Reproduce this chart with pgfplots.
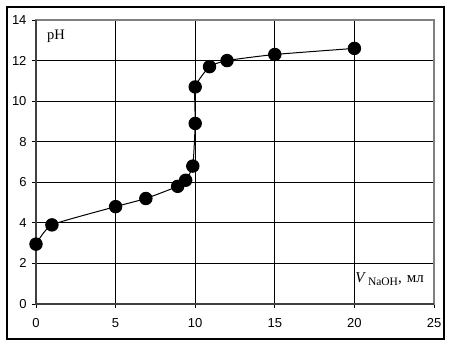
\documentclass[border=0pt]{standalone}
\usepackage{fontspec}
\setmainfont{Liberation Serif}
\setsansfont{Liberation Sans}
\usepackage{pgfplots}
\pgfplotsset{compat=1.18}
\begin{document}
\begin{tikzpicture}
\useasboundingbox (0,0) rectangle (451bp,346bp);
\draw[line width=1.2bp,black] (7bp,7bp) rectangle (444bp,339bp);
\begin{axis}[
  at={(36bp,42bp)}, anchor=south west,
  scale only axis, width=398bp, height=284bp,
  xmin=0, xmax=25, ymin=0, ymax=14,
  xtick={0,5,...,25}, ytick={0,2,...,14},
  xtick pos=left, ytick pos=left,
  tick align=outside, major tick length=4bp,
  tick style={black, line width=0.8bp},
  grid=major, grid style={black, line width=1bp},
  axis line style={draw=gray, line width=1.8bp},
  ticklabel style={font=\sffamily\fontsize{13bp}{15bp}\selectfont},
  /pgf/number format/assume math mode=true,
  xticklabel style={yshift=-7bp},
  yticklabel style={xshift=-2bp},
  clip=false,
]
\draw[line width=1.8bp, black!75] (rel axis cs:0,1) -- (rel axis cs:0,0) -- (rel axis cs:1,0);
\addplot[black, line width=1bp, smooth, tension=0.3, mark=*, mark size=6.2bp,
  mark options={fill=black}] coordinates {
  (0,2.95) (1,3.9) (5,4.8) (6.9,5.2) (8.9,5.8) (9.4,6.1) (9.85,6.8)
  (10,8.9) (10,10.7) (10.9,11.7) (12,12.0) (15,12.3) (20,12.6)
};
\node[anchor=base west, inner sep=0, font=\fontsize{14.5bp}{16bp}\selectfont] at (axis cs:0.69,13.06) {pH};
\node[anchor=base west, inner sep=0, font=\fontsize{15bp}{17bp}\selectfont] at (axis cs:20.05,1.08)
  {\textit{V}\hspace{2bp}\raisebox{-3.5bp}{\fontsize{11.5bp}{13bp}\selectfont NaOH},\hspace{5bp}мл};
\end{axis}
\end{tikzpicture}
\end{document}
